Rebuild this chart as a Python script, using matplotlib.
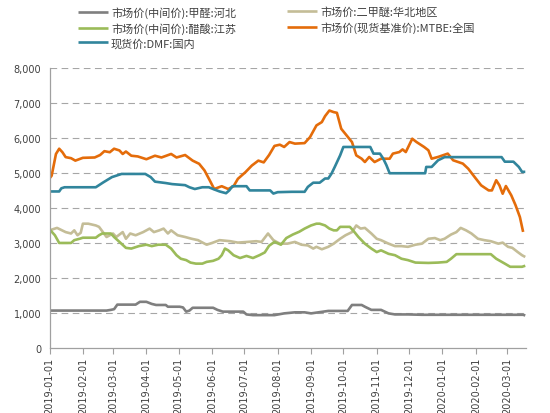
import matplotlib
matplotlib.use("Agg")
import matplotlib.pyplot as plt
import matplotlib.dates as mdates
from matplotlib.ticker import FuncFormatter
import pandas as pd

plt.rcParams['font.family'] = ['Noto Sans CJK SC', 'DejaVu Sans']

################################################################################
# Data

labels = ['市场价(中间价):甲醛:河北', '市场价:二甲醚:华北地区',
          '市场价(中间价):醋酸:江苏', '市场价(现货基准价):MTBE:全国',
          '现货价:DMF:国内']

# 甲醛 (formaldehyde)
hcho_dates = ['2019-01-01', '2019-02-23', '2019-02-27', '2019-03-02', '2019-03-05', '2019-03-22',
              '2019-03-26', '2019-04-01', '2019-04-06', '2019-04-10', '2019-04-19', '2019-04-21',
              '2019-05-02', '2019-05-05', '2019-05-08', '2019-05-11', '2019-05-14', '2019-06-02',
              '2019-06-06', '2019-06-11', '2019-06-30', '2019-07-03', '2019-07-09', '2019-07-29',
              '2019-08-07', '2019-08-17', '2019-08-26', '2019-09-01', '2019-09-17', '2019-10-05',
              '2019-10-09', '2019-10-18', '2019-10-21', '2019-10-27', '2019-11-05', '2019-11-12',
              '2019-11-18', '2019-11-30', '2019-12-13', '2020-03-16', '2020-03-18']
hcho_vals = [1080, 1080, 1100, 1120, 1250, 1250,
             1330, 1330, 1270, 1240, 1240, 1190,
             1190, 1170, 1050, 1080, 1160, 1160,
             1100, 1050, 1050, 970, 950, 950,
             1000, 1030, 1030, 1000, 1070, 1070,
             1240, 1240, 1190, 1100, 1100, 1000,
             970, 970, 960, 960, 940]

# 二甲醚 (DME)
dme_dates = ['2019-01-01', '2019-01-08', '2019-01-16', '2019-01-21', '2019-01-24', '2019-01-27',
             '2019-01-30', '2019-02-01', '2019-02-06', '2019-02-13', '2019-02-16', '2019-02-23',
             '2019-03-01', '2019-03-04', '2019-03-10', '2019-03-13', '2019-03-17', '2019-03-22',
             '2019-03-29', '2019-04-04', '2019-04-08', '2019-04-13', '2019-04-17', '2019-04-21',
             '2019-04-24', '2019-04-30', '2019-05-07', '2019-05-13', '2019-05-19', '2019-05-22',
             '2019-05-27', '2019-06-01', '2019-06-08', '2019-06-18', '2019-06-25', '2019-07-04',
             '2019-07-12', '2019-07-17', '2019-07-23', '2019-07-28', '2019-08-03', '2019-08-10',
             '2019-08-17', '2019-08-23', '2019-08-29', '2019-09-03', '2019-09-06', '2019-09-11',
             '2019-09-17', '2019-09-22', '2019-09-28', '2019-10-03', '2019-10-09', '2019-10-13',
             '2019-10-17', '2019-10-21', '2019-10-27', '2019-11-01', '2019-11-05', '2019-11-12',
             '2019-11-18', '2019-11-24', '2019-11-30', '2019-12-07', '2019-12-13', '2019-12-19',
             '2019-12-25', '2019-12-30', '2020-01-03', '2020-01-09', '2020-01-14', '2020-01-18',
             '2020-01-23', '2020-01-28', '2020-02-03', '2020-02-09', '2020-02-15', '2020-02-22',
             '2020-02-26', '2020-03-02', '2020-03-06', '2020-03-11', '2020-03-15', '2020-03-18']
dme_vals = [3370, 3440, 3320, 3280, 3370, 3230,
            3300, 3560, 3560, 3510, 3470, 3180,
            3280, 3180, 3320, 3130, 3280, 3230,
            3320, 3420, 3320, 3370, 3420, 3280,
            3370, 3230, 3180, 3130, 3090, 3040,
            2960, 3010, 3090, 3060, 3020, 3040,
            3060, 3040, 3280, 3090, 2990, 2990,
            3040, 2960, 2940, 2850, 2900, 2830,
            2900, 2990, 3130, 3230, 3320, 3510,
            3420, 3440, 3280, 3130, 3090, 2990,
            2920, 2920, 2900, 2960, 2990, 3130,
            3150, 3090, 3130, 3250, 3320, 3440,
            3370, 3280, 3130, 3090, 3060, 2990,
            3020, 2900, 2870, 2750, 2660, 2610]

# 醋酸 (acetic acid)
acetic_dates = ['2019-01-01', '2019-01-06', '2019-01-10', '2019-01-21', '2019-01-24', '2019-01-29',
                '2019-02-01', '2019-02-13', '2019-02-16', '2019-02-19', '2019-02-27', '2019-03-02',
                '2019-03-07', '2019-03-13', '2019-03-18', '2019-03-25', '2019-04-01', '2019-04-06',
                '2019-04-12', '2019-04-19', '2019-04-24', '2019-04-29', '2019-05-03', '2019-05-08',
                '2019-05-12', '2019-05-17', '2019-05-23', '2019-05-27', '2019-06-02', '2019-06-07',
                '2019-06-10', '2019-06-13', '2019-06-16', '2019-06-21', '2019-06-27', '2019-07-03',
                '2019-07-09', '2019-07-15', '2019-07-20', '2019-07-24', '2019-07-29', '2019-08-04',
                '2019-08-09', '2019-08-15', '2019-08-21', '2019-08-26', '2019-09-01', '2019-09-06',
                '2019-09-09', '2019-09-14', '2019-09-18', '2019-09-22', '2019-09-25', '2019-09-28',
                '2019-10-07', '2019-10-10', '2019-10-15', '2019-10-21', '2019-10-27', '2019-11-01',
                '2019-11-05', '2019-11-12', '2019-11-18', '2019-11-24', '2019-11-30', '2019-12-07',
                '2019-12-19', '2019-12-28', '2020-01-05', '2020-01-09', '2020-01-14', '2020-02-15',
                '2020-02-20', '2020-02-28', '2020-03-04', '2020-03-15', '2020-03-18']
acetic_vals = [3400, 3230, 3010, 3010, 3090, 3130,
               3160, 3160, 3230, 3280, 3280, 3180,
               3040, 2870, 2850, 2920, 2960, 2920,
               2960, 2960, 2850, 2660, 2560, 2520,
               2450, 2420, 2420, 2470, 2500, 2560,
               2660, 2850, 2800, 2660, 2580, 2640,
               2580, 2660, 2740, 2930, 3040, 2960,
               3150, 3250, 3330, 3420, 3510, 3560,
               3560, 3510, 3420, 3370, 3370, 3470,
               3470, 3370, 3180, 2990, 2850, 2750,
               2800, 2700, 2660, 2560, 2520, 2450,
               2440, 2450, 2470, 2560, 2690, 2690,
               2560, 2420, 2330, 2330, 2360]

# MTBE
mtbe_dates = ['2019-01-01', '2019-01-03', '2019-01-07', '2019-01-10', '2019-01-13', '2019-01-16', '2019-01-21', '2019-01-25',
              '2019-02-01', '2019-02-12', '2019-02-17', '2019-02-21', '2019-02-26', '2019-03-02', '2019-03-07', '2019-03-10',
              '2019-03-13', '2019-03-18', '2019-03-24', '2019-04-01', '2019-04-09', '2019-04-15', '2019-04-24', '2019-04-29',
              '2019-05-07', '2019-05-14', '2019-05-20', '2019-05-25', '2019-05-30', '2019-06-03', '2019-06-10', '2019-06-16',
              '2019-06-21', '2019-06-25', '2019-07-02', '2019-07-08', '2019-07-14', '2019-07-19', '2019-07-24', '2019-07-29',
              '2019-08-03', '2019-08-07', '2019-08-12', '2019-08-17', '2019-08-26', '2019-08-31', '2019-09-06', '2019-09-11',
              '2019-09-14', '2019-09-18', '2019-09-22', '2019-09-25', '2019-09-29', '2019-10-04', '2019-10-09', '2019-10-13',
              '2019-10-18', '2019-10-21', '2019-10-25', '2019-10-30', '2019-11-05', '2019-11-13', '2019-11-16', '2019-11-22',
              '2019-11-25', '2019-11-28', '2019-12-04', '2019-12-08', '2019-12-15', '2019-12-19', '2019-12-22', '2019-12-28',
              '2020-01-06', '2020-01-11', '2020-01-20', '2020-01-25', '2020-01-31', '2020-02-06', '2020-02-13', '2020-02-16',
              '2020-02-20', '2020-02-23', '2020-02-26', '2020-02-29', '2020-03-05', '2020-03-09', '2020-03-13', '2020-03-16']
mtbe_vals = [4850, 4930, 5550, 5700, 5600, 5460, 5430, 5360,
             5440, 5450, 5520, 5630, 5600, 5700, 5650, 5550,
             5620, 5500, 5480, 5400, 5500, 5450, 5550, 5450,
             5520, 5360, 5270, 5080, 4790, 4550, 4630, 4550,
             4630, 4840, 5030, 5220, 5360, 5310, 5520, 5780,
             5815, 5750, 5890, 5845, 5860, 6030, 6365, 6460,
             6630, 6790, 6745, 6725, 6270, 6080, 5890, 5510,
             5415, 5320, 5465, 5320, 5415, 5415, 5560, 5605,
             5680, 5605, 5985, 5890, 5750, 5655, 5415, 5465,
             5560, 5370, 5275, 5130, 4890, 4655, 4510, 4510,
             4800, 4655, 4415, 4635, 4370, 4085, 3750, 3325]

# DMF
dmf_dates = ['2019-01-01', '2019-01-10', '2019-01-12', '2019-01-15', '2019-02-13', '2019-02-20',
             '2019-02-28', '2019-03-09', '2019-03-31', '2019-04-05', '2019-04-09', '2019-04-19',
             '2019-04-25', '2019-05-07', '2019-05-11', '2019-05-16', '2019-05-23', '2019-05-29',
             '2019-06-02', '2019-06-08', '2019-06-14', '2019-06-17', '2019-06-20', '2019-07-03',
             '2019-07-06', '2019-07-25', '2019-07-28', '2019-08-01', '2019-08-14', '2019-08-26',
             '2019-08-29', '2019-09-03', '2019-09-09', '2019-09-14', '2019-09-17', '2019-09-20',
             '2019-09-23', '2019-09-28', '2019-10-01', '2019-10-26', '2019-10-29', '2019-11-04',
             '2019-11-07', '2019-11-10', '2019-11-13', '2019-12-16', '2019-12-17', '2019-12-22',
             '2019-12-25', '2019-12-28', '2020-01-03', '2020-02-25', '2020-02-28', '2020-03-07',
             '2020-03-12', '2020-03-15', '2020-03-18']
dmf_vals = [4480, 4480, 4570, 4600, 4600, 4740,
            4890, 4980, 4980, 4890, 4760, 4720,
            4690, 4660, 4600, 4550, 4600, 4600,
            4550, 4480, 4430, 4510, 4630, 4630,
            4510, 4510, 4420, 4460, 4470, 4470,
            4610, 4730, 4730, 4850, 4850, 4990,
            5180, 5510, 5750, 5750, 5560, 5560,
            5420, 5230, 5000, 5000, 5180, 5180,
            5275, 5370, 5460, 5460, 5330, 5330,
            5180, 5040, 5040]

colors = ['#7f7f7f', '#c4bd97', '#9bbb59', '#e46c0a', '#31859c']
month_ticks = pd.date_range('2019-01-01', '2020-03-01', freq='MS')

################################################################################
# Plot

fig = plt.figure(figsize=(5.5, 4.14), dpi=100)
ax = fig.add_axes([0.09, 0.156, 0.867, 0.677])

series = [(hcho_dates, hcho_vals), (dme_dates, dme_vals), (acetic_dates, acetic_vals),
          (mtbe_dates, mtbe_vals), (dmf_dates, dmf_vals)]
lines = []
for (d, v), c, lab in zip(series, colors, labels):
    ln, = ax.plot(pd.to_datetime(d), v, color=c, lw=1.9, label=lab,
                  solid_joinstyle='round', solid_capstyle='butt')
    lines.append(ln)

ax.set_ylim(0, 8000)
ax.set_yticks(range(0, 8001, 1000))
ax.yaxis.set_major_formatter(FuncFormatter(lambda v, p: f'{v:,.0f}'))
ax.set_xlim(pd.Timestamp('2019-01-01'), pd.Timestamp('2020-03-19'))
ax.set_xticks(month_ticks)
ax.xaxis.set_major_formatter(mdates.DateFormatter('%Y-%m-%d'))

for t in ax.get_yticks()[1:]:
    ax.axhline(t, color='#a6a6a6', lw=0.8, ls=(0, (6, 4)), zorder=0)

for s in ['top', 'right']:
    ax.spines[s].set_visible(False)
for s in ['left', 'bottom']:
    ax.spines[s].set_color('#a0a0a0')
    ax.spines[s].set_linewidth(0.9)

ax.tick_params(axis='y', length=0, pad=6, labelsize=7, labelcolor='#404040')
ax.tick_params(axis='x', length=4, color='#a0a0a0', pad=2, labelsize=7,
               labelcolor='#404040', labelrotation=90)
for lab in ax.get_xticklabels() + ax.get_yticklabels():
    lab.set_fontfamily('DejaVu Sans')

# Legend in two hand-placed columns
common = dict(frameon=False, fontsize=8, handlelength=2.7, handletextpad=0.25,
              borderpad=0, borderaxespad=0, labelspacing=0.36, labelcolor='#404040',
              loc='upper left')
fig.legend([lines[0], lines[2], lines[4]], [labels[0], labels[2], labels[4]],
           bbox_to_anchor=(0.142, 0.982), **common)
fig.legend([lines[1], lines[3]], [labels[1], labels[3]],
           bbox_to_anchor=(0.522, 0.982), **common)

fig.savefig('out.png', dpi=100)
